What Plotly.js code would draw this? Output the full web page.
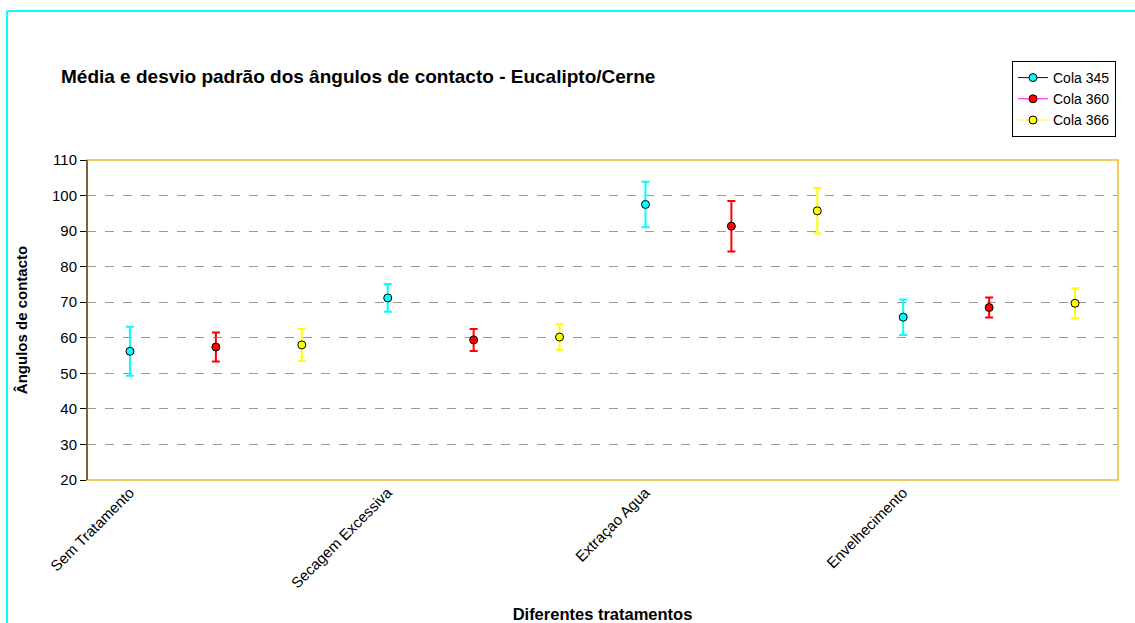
<!DOCTYPE html>
<html>
<head>
<meta charset="utf-8">
<script src="https://cdn.plot.ly/plotly-3.0.1.min.js"></script>
<style>html,body{margin:0;padding:0;background:#fff;} #chart{width:1135px;height:623px;}</style>
</head>
<body>
<div id="chart"></div>
<script>
const categories = ["Sem Tratamento", "Secagem Excessiva", "Extraçao Agua", "Envelhecimento"];
const seriesNames = ["Cola 345", "Cola 360", "Cola 366"];
const cola345Mean = [56.2, 71.2, 97.5, 65.8];
const cola345Sd   = [6.9, 3.9, 6.4, 5.0];
const cola360Mean = [57.4, 59.4, 91.4, 68.5];
const cola360Sd   = [4.1, 3.1, 7.1, 2.8];
const cola366Mean = [58.0, 60.2, 95.7, 69.7];
const cola366Sd   = [4.5, 3.6, 6.4, 4.2];

const means = [cola345Mean, cola360Mean, cola366Mean];
const sds = [cola345Sd, cola360Sd, cola366Sd];
const markerColors = ["#00FFFF", "#FF0000", "#FFFF00"];
const legendLineColors = ["#000080", "#FF00FF", "#FFFF00"];
const nSeries = seriesNames.length;

const traces = seriesNames.map((name, s) => {
  const x = [], y = [], e = [];
  categories.forEach((c, i) => {
    const pos = i * nSeries + s;
    if (i > 0) { x.push(pos - 0.5); y.push(null); e.push(null); }
    x.push(pos); y.push(means[s][i]); e.push(sds[s][i]);
  });
  return {
    type: "scatter", mode: "lines+markers", name: name,
    x: x, y: y, connectgaps: false,
    line: {color: legendLineColors[s], width: 1},
    marker: {symbol: "circle", size: 8, color: markerColors[s], line: {color: "#000", width: 1}},
    error_y: {type: "data", array: e, visible: true, color: markerColors[s], thickness: 2, width: 4},
    cliponaxis: false
  };
});

const tickvals = categories.map((c, i) => i * nSeries);
const fam = '"Liberation Sans", Arial, sans-serif';

const layout = {
  width: 1135, height: 623,
  margin: {l: 87, r: 17, t: 160, b: 143},
  paper_bgcolor: "#fff", plot_bgcolor: "#fff",
  font: {family: fam, size: 15, color: "#000"},
  title: {text: "<b>Média e desvio padrão dos ângulos de contacto - Eucalipto/Cerne</b>",
          x: 61/1135, xanchor: "left", xref: "container", y: 1 - 76/623, yanchor: "middle", yref: "container",
          font: {family: fam, size: 19, color: "#000"}},
  xaxis: {
    range: [-0.5, categories.length * nSeries - 0.5],
    tickmode: "array", tickvals: tickvals, ticktext: categories,
    tickangle: -45, showgrid: false, zeroline: false, showline: false, ticks: "",
    tickfont: {family: fam, size: 15, color: "#000"},
    title: {text: "<b>Diferentes tratamentos</b>", font: {family: fam, size: 16.5, color: "#000"}, standoff: 40},
    automargin: false
  },
  yaxis: {
    range: [20, 110], dtick: 10, tick0: 20,
    showgrid: true, gridcolor: "#999999", griddash: "dash", gridwidth: 1,
    zeroline: false, showline: true, linecolor: "#000", linewidth: 1,
    ticks: "outside", ticklen: 6, tickcolor: "#000",
    tickfont: {family: fam, size: 15, color: "#000"},
    title: {text: "<b>Ângulos de contacto</b>", font: {family: fam, size: 15, color: "#000"}, standoff: 20},
    automargin: false
  },
  showlegend: true,
  legend: {
    x: (1012 - 87) / 1031, xanchor: "left", y: (480 - 61) / 320, yanchor: "top",
    bordercolor: "#000", borderwidth: 1, bgcolor: "#fff",
    font: {family: fam, size: 14, color: "#000"}, tracegroupgap: 0, itemwidth: 30
  },
  shapes: [
    {type: "rect", xref: "paper", yref: "paper", x0: 0, x1: 1, y0: 0, y1: 1,
     line: {color: "#F0CD62", width: 2}, layer: "above"},
    {type: "line", xref: "paper", yref: "paper", x0: 0, x1: 0, y0: 0, y1: 1,
     line: {color: "#000", width: 1}, layer: "above"},
    {type: "line", xref: "paper", yref: "paper", x0: (7 - 87) / 1031, x1: (7 - 87) / 1031,
     y0: (480 - 640) / 320, y1: (480 - 11) / 320, line: {color: "#00FFFF", width: 2}, layer: "above"},
    {type: "line", xref: "paper", yref: "paper", x0: (7 - 87) / 1031, x1: (1140 - 87) / 1031,
     y0: (480 - 11) / 320, y1: (480 - 11) / 320, line: {color: "#00FFFF", width: 2}, layer: "above"}
  ]
};

Plotly.newPlot("chart", traces, layout, {displayModeBar: false, staticPlot: true});
</script>
</body>
</html>
